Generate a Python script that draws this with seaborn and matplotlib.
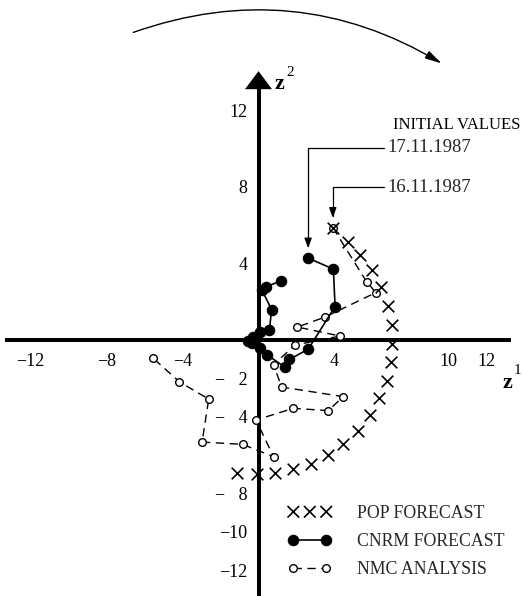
import matplotlib
matplotlib.use("Agg")
import matplotlib.pyplot as plt
import seaborn as sns
import pandas as pd
from matplotlib.legend_handler import HandlerLine2D

# Phase-space trajectories (z1, z2)
pop_z1 = [3.91, 4.69, 5.36, 5.96, 6.45, 6.82, 7.04, 7.03, 6.95, 6.75, 6.34, 5.87,
          5.25, 4.43, 3.64, 2.76, 1.83, 0.87, -0.09, -1.15]
pop_z2 = [5.87, 5.10, 4.42, 3.64, 2.75, 1.80, 0.77, -0.18, -1.15, -2.11, -3.04, -3.93,
          -4.73, -5.44, -5.98, -6.47, -6.74, -6.95, -6.99, -6.95]

cnrm_z1 = [2.61, 3.94, 4.03, 2.62, 1.63, 1.39, 0.46, 0.08, -0.36, -0.53, -0.27, 0.08,
           0.57, 0.69, 0.18, 0.42, 1.21]
cnrm_z2 = [4.28, 3.70, 1.75, -0.47, -1.01, -1.41, -0.78, -0.43, -0.17, -0.03, 0.17, 0.42,
           0.50, 1.59, 2.61, 2.79, 3.10]

nmc_z1 = [3.91, 5.69, 6.18, 3.50, 2.05, 4.29, 1.92, 0.79, 1.22, 4.46, 3.67, 1.83,
          -0.13, 0.79, -0.84, -2.97, -2.62, -4.16, -5.54]
nmc_z2 = [5.87, 3.04, 2.48, 1.20, 0.68, 0.21, -0.26, -1.28, -2.45, -2.95, -3.68, -3.56,
          -4.17, -6.08, -5.44, -5.32, -3.08, -2.18, -0.95]

series_names = ["POP FORECAST", "CNRM FORECAST", "NMC ANALYSIS"]
init_labels = ["INITIAL VALUES", "17.11.1987", "16.11.1987"]

x_ticks = [-12, -10, -8, -6, -4, -2, 2, 4, 6, 8, 10, 12]
x_tick_labels = ["\u221212", "", "\u22128", "", "\u22124", "", "", "4", "", "", "10", "12"]
y_ticks = [-12, -10, -8, -6, -4, -2, 2, 4, 6, 8, 10, 12]
y_tick_labels = ["\u221212", "\u221210", "\u2212   8", "", "\u2212   4", "\u2212   2",
                 "", "4", "", "8", "", "12"]

sns.set_theme(style="white")
plt.rcParams["font.family"] = ["Liberation Serif", "DejaVu Sans"]

W, H = 523, 596
fig = plt.figure(figsize=(W / 100, H / 100), dpi=100)
ax = fig.add_axes([0, 0, 1, 1])
ax.set_facecolor("white")
ax.set_xlim(-13.605, 13.92)
ax.set_ylim(-13.35, 17.74)

pop = pd.DataFrame({"z1": pop_z1, "z2": pop_z2})
cnrm = pd.DataFrame({"z1": cnrm_z1, "z2": cnrm_z2})
nmc = pd.DataFrame({"z1": nmc_z1, "z2": nmc_z2})

# NMC analysis: dashed path with open markers
sns.lineplot(data=nmc, x="z1", y="z2", sort=False, estimator=None, ax=ax,
             color="black", linewidth=1.0, linestyle=(0, (6, 4)),
             marker="o", markersize=5.5, markerfacecolor="white",
             markeredgecolor="black", markeredgewidth=1.0,
             label=series_names[2], zorder=3)
# CNRM forecast: solid path with filled dots
sns.lineplot(data=cnrm, x="z1", y="z2", sort=False, estimator=None, ax=ax,
             color="black", linewidth=1.2, marker="o", markersize=7.5,
             markerfacecolor="black", markeredgecolor="black",
             markeredgewidth=0.8, label=series_names[1], zorder=4)
# POP forecast: crosses only
sns.scatterplot(data=pop, x="z1", y="z2", ax=ax, marker="x", s=70,
                color="black", linewidth=1.2, label=series_names[0], zorder=5)

# Axes through the origin
for side in ("top", "right"):
    ax.spines[side].set_visible(False)
ax.spines["left"].set_position(("data", 0))
ax.spines["bottom"].set_position(("data", 0))
for side in ("left", "bottom"):
    ax.spines[side].set_linewidth(2.9)
    ax.spines[side].set_color("black")
ax.spines["bottom"].set_bounds(-13.25, 13.2)
ax.spines["left"].set_bounds(-13.6, 13.3)
ax.set_xticks(x_ticks, x_tick_labels)
ax.set_yticks(y_ticks, y_tick_labels)
ax.tick_params(axis="both", direction="inout", length=11, width=1.1,
               colors="black", labelsize=13)
ax.tick_params(axis="x", pad=4)
ax.tick_params(axis="y", pad=2.5)
ax.set_xlabel("")
ax.set_ylabel("")

# Arrowheads on the axes
ax.annotate("", xy=(13.97, 0), xytext=(12.5, 0),
            arrowprops=dict(arrowstyle="-|>,head_length=1.4,head_width=0.95",
                            mutation_scale=10, lw=0, color="black",
                            shrinkA=0, shrinkB=0))
ax.annotate("", xy=(0, 14.03), xytext=(0, 12.5),
            arrowprops=dict(arrowstyle="-|>,head_length=1.3,head_width=0.97",
                            mutation_scale=10, lw=0, color="black",
                            shrinkA=0, shrinkB=0))

# Axis names
ax.text(507 / W, 1 - 383 / H, "z", transform=ax.transAxes, fontsize=16,
        fontweight="bold", ha="center", va="center", color="black")
ax.text(517 / W, 1 - 370 / H, "1", transform=ax.transAxes, fontsize=11,
        ha="center", va="center", color="black")
ax.text(279 / W, 1 - 84 / H, "z", transform=ax.transAxes, fontsize=16,
        fontweight="bold", ha="center", va="center", color="black")
ax.text(290 / W, 1 - 73 / H, "2", transform=ax.transAxes, fontsize=11,
        ha="center", va="center", color="black")

# Clockwise rotation arrow
ax.annotate("", xy=(9.64, 14.43), xytext=(-6.59, 16.05),
            arrowprops=dict(arrowstyle="-|>,head_length=1.0,head_width=0.25",
                            mutation_scale=10, lw=1.0, color="black",
                            connectionstyle="arc3,rad=-0.235",
                            shrinkA=0, shrinkB=0))

# Initial-value labels
ax.text(393 / W, 1 - 125 / H, init_labels[0], transform=ax.transAxes,
        fontsize=12, ha="left", va="center", color="black")
ann_style = dict(arrowstyle="-|>,head_length=0.6,head_width=0.22",
                 mutation_scale=10, lw=0.9, color="black",
                 connectionstyle="angle,angleA=0,angleB=90,rad=0",
                 relpos=(0, 0.5), shrinkA=0, shrinkB=7)
ax.annotate(init_labels[1], xy=(cnrm_z1[0], cnrm_z2[0]),
            xytext=(387, H - 148), textcoords="figure pixels",
            fontsize=13.5, ha="left", va="center", arrowprops=ann_style)
ax.annotate(init_labels[2], xy=(pop_z1[0], pop_z2[0]),
            xytext=(387, H - 187), textcoords="figure pixels",
            fontsize=13.5, ha="left", va="center", arrowprops=ann_style)

# Legend
handles, labels = ax.get_legend_handles_labels()
order = [labels.index(n) for n in series_names]
leg = ax.legend([handles[i] for i in order], [labels[i] for i in order],
                loc="upper left", bbox_to_anchor=(288 / W, 1 - 505 / H),
                frameon=False, fontsize=12.8, borderpad=0, borderaxespad=0,
                handlelength=2.45, handletextpad=1.45, labelspacing=0.62,
                scatterpoints=3, scatteryoffsets=[0.5], numpoints=2,
                handler_map={type(handles[order[1]]): HandlerLine2D(numpoints=2)})

fig.savefig("out.png", dpi=100)
